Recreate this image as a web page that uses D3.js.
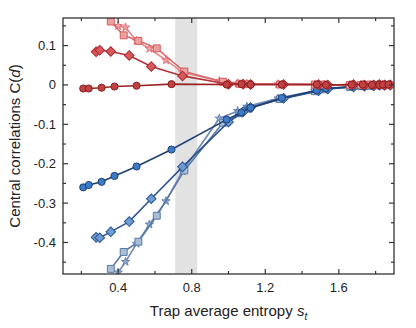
<!DOCTYPE html>
<html>
<head>
<meta charset="utf-8">
<script src="https://cdn.jsdelivr.net/npm/d3@7"></script>
<style>
	body { margin: 0; background: white; }
	text { font-family: "Liberation Sans", Arial, sans-serif; fill: #222; }
</style>
</head>
<body>
<svg id="chart" width="416" height="328"></svg>
<script>
// x positions (trap average entropy) per marker family
var circleX = [0.21, 0.24, 0.31, 0.38, 0.50, 0.69, 0.99, 1.07, 1.12, 1.29, 1.48, 1.53, 1.67, 1.73, 1.78, 1.82, 1.84, 1.87]
var diamondX = [0.28, 0.30, 0.36, 0.46, 0.58, 0.75, 1.00, 1.08, 1.12, 1.30, 1.49, 1.54, 1.68, 1.74, 1.79, 1.82, 1.85, 1.88]
var squareX = [0.36, 0.43, 0.51, 0.61, 0.76, 0.97, 1.06, 1.11, 1.28, 1.47, 1.52, 1.66, 1.72, 1.77, 1.81, 1.84, 1.87]
var starX = [0.40, 0.44, 0.50, 0.57, 0.66, 0.75, 0.95, 1.05, 1.10, 1.27, 1.47, 1.52, 1.66, 1.72, 1.77, 1.81, 1.84, 1.87]

// central correlations C(d)
var redCircle = [-0.009, -0.009, -0.007, -0.004, -0.002, 0.002, 0.001, 0.002, 0.001, 0.001, 0.001, 0.000, 0.001, 0.001, 0.000, 0.000, 0.001, 0.001]
var blueCircle = [-0.260, -0.254, -0.246, -0.231, -0.207, -0.164, -0.088, -0.070, -0.058, -0.033, -0.014, -0.009, -0.004, -0.003, -0.002, -0.001, -0.001, 0.000]
var redDiamond = [0.084, 0.088, 0.085, 0.075, 0.047, 0.023, 0.002, 0.002, 0.001, 0.001, 0.001, 0.000, 0.001, 0.000, 0.000, 0.001, 0.000, 0.000]
var blueDiamond = [-0.387, -0.388, -0.373, -0.347, -0.289, -0.208, -0.094, -0.068, -0.057, -0.034, -0.015, -0.010, -0.005, -0.003, -0.002, -0.001, -0.001, 0.000]
var redSquare = [0.161, 0.126, 0.112, 0.093, 0.034, 0.008, 0.003, 0.002, 0.001, 0.001, 0.001, 0.000, 0.000, 0.001, 0.000, 0.000, 0.000]
var blueSquare = [-0.467, -0.424, -0.398, -0.332, -0.217, -0.096, -0.072, -0.060, -0.036, -0.016, -0.011, -0.005, -0.003, -0.002, -0.001, -0.001, 0.000]
var redStar = [0.150, 0.146, 0.112, 0.092, 0.063, 0.032, 0.010, 0.004, 0.003, 0.002, 0.001, 0.001, 0.000, 0.001, 0.000, 0.000, 0.000, 0.000]
var blueStar = [-0.476, -0.449, -0.403, -0.354, -0.295, -0.219, -0.085, -0.066, -0.055, -0.034, -0.015, -0.010, -0.005, -0.003, -0.002, -0.001, -0.001, 0.000]

var xTicks = [0.4, 0.8, 1.2, 1.6]
var yTicks = [0.1, 0, -0.1, -0.2, -0.3, -0.4]
var band = [0.71, 0.83]

var margin = { top: 18, right: 22, bottom: 54, left: 63 }
var width = 416 - margin.left - margin.right
var height = 328 - margin.top - margin.bottom

var svg = d3.select('#chart')
var g = svg.append('g').attr('transform', `translate(${margin.left},${margin.top})`)

var x = d3.scaleLinear().domain([0.1, 1.9]).range([0, width])
var y = d3.scaleLinear().domain([-0.48, 0.17]).range([height, 0])

svg.append('defs').append('clipPath').attr('id', 'plotClip')
	.append('rect').attr('width', width).attr('height', height)

// shaded entropy band
g.append('rect')
	.attr('x', x(band[0]))
	.attr('y', 0)
	.attr('width', x(band[1]) - x(band[0]))
	.attr('height', height)
	.attr('fill', '#e2e2e2')

var series = [
	{ xs: starX, ys: blueStar, shape: 'star', fill: '#8fa9cf', stroke: '#6a86b3', line: '#6f8bb5' },
	{ xs: squareX, ys: blueSquare, shape: 'square', fill: '#a9bdd6', stroke: '#5a7aa6', line: '#5a7aa6' },
	{ xs: diamondX, ys: blueDiamond, shape: 'diamond', fill: '#6e9bd2', stroke: '#2c5490', line: '#2c5490' },
	{ xs: circleX, ys: blueCircle, shape: 'circle', fill: '#3c7bc8', stroke: '#1e3f74', line: '#1f3f75' },
	{ xs: starX, ys: redStar, shape: 'star', fill: '#f0a3a3', stroke: '#e07479', line: '#e5888b' },
	{ xs: squareX, ys: redSquare, shape: 'square', fill: '#eea0a0', stroke: '#d35c60', line: '#da6a6d' },
	{ xs: diamondX, ys: redDiamond, shape: 'diamond', fill: '#d9585c', stroke: '#a82a2e', line: '#b23236' },
	{ xs: circleX, ys: redCircle, shape: 'circle', fill: '#c04244', stroke: '#8a1c1e', line: '#9b2426' }
]

var symbols = {
	circle: d3.symbol().type(d3.symbolCircle).size(40),
	square: d3.symbol().type(d3.symbolSquare).size(48),
	diamond: d3.symbol().type(d3.symbolSquare).size(46),
	star: d3.symbol().type(d3.symbolStar).size(22)
}

var plot = g.append('g').attr('clip-path', 'url(#plotClip)')
var line = d3.line().x(d => x(d[0])).y(d => y(d[1]))

series.forEach(s => {
	var pts = s.xs.map((v, i) => [v, s.ys[i]])
	var sg = plot.append('g')
	sg.append('path')
		.datum(pts)
		.attr('d', line)
		.attr('fill', 'none')
		.attr('stroke', s.line)
		.attr('stroke-width', 1.6)
	sg.selectAll('path.mark')
		.data(pts)
		.join('path')
		.attr('class', 'mark')
		.attr('d', symbols[s.shape])
		.attr('transform', d => `translate(${x(d[0])},${y(d[1])})` + (s.shape == 'diamond' ? ' rotate(45)' : ''))
		.attr('fill', s.fill)
		.attr('stroke', s.stroke)
		.attr('stroke-width', 1)
})

// frame and inward ticks
var axisColor = '#333'
g.append('rect')
	.attr('width', width).attr('height', height)
	.attr('fill', 'none').attr('stroke', axisColor).attr('stroke-width', 1.3)

var xMinor = [0.2, 0.6, 1.0, 1.4, 1.8]
var yMinor = [0.15, 0.05, -0.05, -0.15, -0.25, -0.35, -0.45]
var ticks = g.append('g').attr('stroke', axisColor).attr('stroke-width', 1.2)

xTicks.forEach(v => {
	ticks.append('line').attr('x1', x(v)).attr('x2', x(v)).attr('y1', height).attr('y2', height - 5)
	ticks.append('line').attr('x1', x(v)).attr('x2', x(v)).attr('y1', 0).attr('y2', 5)
})
xMinor.forEach(v => {
	ticks.append('line').attr('x1', x(v)).attr('x2', x(v)).attr('y1', height).attr('y2', height - 3)
	ticks.append('line').attr('x1', x(v)).attr('x2', x(v)).attr('y1', 0).attr('y2', 3)
})
yTicks.forEach(v => {
	ticks.append('line').attr('x1', 0).attr('x2', 5).attr('y1', y(v)).attr('y2', y(v))
	ticks.append('line').attr('x1', width).attr('x2', width - 5).attr('y1', y(v)).attr('y2', y(v))
})
yMinor.forEach(v => {
	ticks.append('line').attr('x1', 0).attr('x2', 3).attr('y1', y(v)).attr('y2', y(v))
	ticks.append('line').attr('x1', width).attr('x2', width - 3).attr('y1', y(v)).attr('y2', y(v))
})

// tick labels
g.selectAll('text.xlab')
	.data(xTicks)
	.join('text')
	.attr('class', 'xlab')
	.attr('x', d => x(d))
	.attr('y', height + 18)
	.attr('text-anchor', 'middle')
	.attr('font-size', 13)
	.text(d => d.toFixed(1))

g.selectAll('text.ylab')
	.data(yTicks)
	.join('text')
	.attr('class', 'ylab')
	.attr('x', -7)
	.attr('y', d => y(d) + 4.5)
	.attr('text-anchor', 'end')
	.attr('font-size', 13)
	.text(d => d == 0 ? '0' : d.toFixed(1))

// axis titles
var xTitle = svg.append('text')
	.attr('x', margin.left + width / 2)
	.attr('y', 316)
	.attr('text-anchor', 'middle')
	.attr('font-size', 15)
xTitle.append('tspan').text('Trap average entropy ')
xTitle.append('tspan').attr('font-style', 'italic').text('s')
xTitle.append('tspan').attr('font-style', 'italic').attr('font-size', 10).attr('dy', 4).text('t')

var yTitle = svg.append('text')
	.attr('transform', `translate(20,${margin.top + height / 2}) rotate(-90)`)
	.attr('text-anchor', 'middle')
	.attr('font-size', 15)
yTitle.append('tspan').text('Central correlations C(')
yTitle.append('tspan').attr('font-style', 'italic').text('d')
yTitle.append('tspan').text(')')
</script>
</body>
</html>
